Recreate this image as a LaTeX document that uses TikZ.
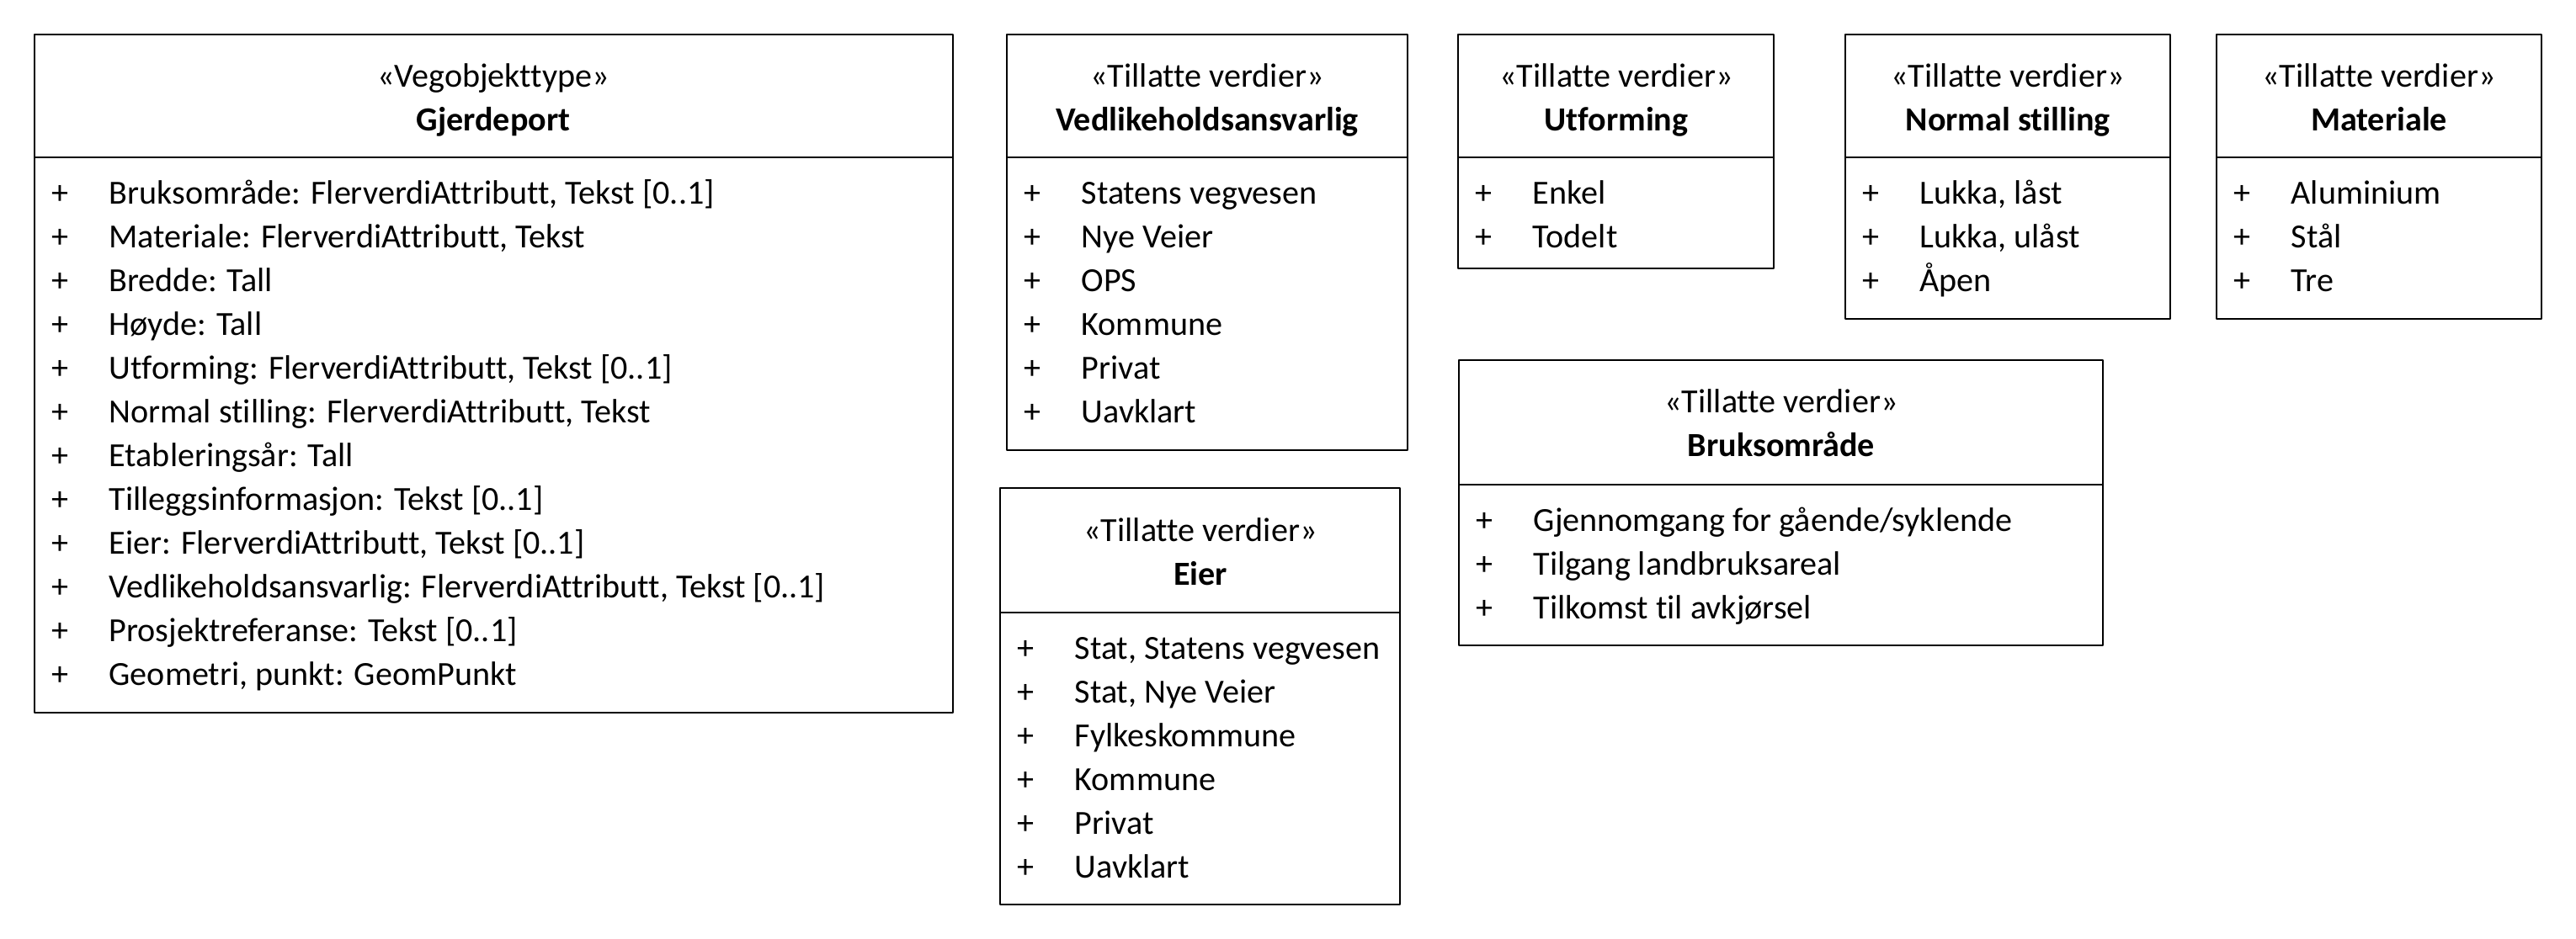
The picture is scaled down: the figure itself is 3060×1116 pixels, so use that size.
\documentclass[tikz,border=0pt]{standalone}
\usepackage{fontspec}
\setmainfont{Carlito}[Ligatures=NoCommon]

\begin{document}
\begin{tikzpicture}[line cap=round,line join=round,x=0.01cm,y=-0.01cm,
  box/.style={draw=black,line width=0.55pt},
  stereo/.style={inner sep=0pt,text height=7.4pt,text depth=2.4pt,font=\fontsize{11.4}{13}\selectfont},
  cname/.style={stereo,font=\fontsize{11.4}{13}\selectfont\bfseries},
  item/.style={anchor=west,inner sep=0pt,text height=7.4pt,text depth=2.4pt,font=\fontsize{11.4}{13}\selectfont}]
\useasboundingbox (0,0) rectangle (3060,1116);

% Gjerdeport
\draw[box] (41,41) rectangle (1132,847);
\draw[box] (41,187) -- (1132,187);
\node[stereo] (gjS) at (586,95) {«Vegobjekttype»};
\node[cname] (gjN) at (586,147) {Gjerdeport};
\foreach \t [count=\i from 0] in {{Bruksområde: FlerverdiAttributt, Tekst [0..1]},
  {Materiale: FlerverdiAttributt, Tekst}, {Bredde: Tall}, {Høyde: Tall},
  {Utforming: FlerverdiAttributt, Tekst [0..1]}, {Normal stilling: FlerverdiAttributt, Tekst},
  {Etableringsår: Tall}, {Tilleggsinformasjon: Tekst [0..1]},
  {Eier: FlerverdiAttributt, Tekst [0..1]},
  {Vedlikeholdsansvarlig: FlerverdiAttributt, Tekst [0..1]},
  {Prosjektreferanse: Tekst [0..1]}, {Geometri, punkt: GeomPunkt}}
{
  \node[item] (gjP\i) at (61,234+52*\i) {+};
  \node[item] (gjA\i) at (129,234+52*\i) {\t};
}

% Vedlikeholdsansvarlig
\draw[box] (1196,41) rectangle (1672,535);
\draw[box] (1196,187) -- (1672,187);
\node[stereo] (veS) at (1434,95) {«Tillatte verdier»};
\node[cname] (veN) at (1434,147) {Vedlikeholdsansvarlig};
\foreach \t [count=\i from 0] in {Statens vegvesen, Nye Veier, OPS, Kommune, Privat, Uavklart}
{
  \node[item] (veP\i) at (1216,234+52*\i) {+};
  \node[item] (veA\i) at (1284,234+52*\i) {\t};
}

% Utforming
\draw[box] (1732,41) rectangle (2107,319);
\draw[box] (1732,187) -- (2107,187);
\node[stereo] (utS) at (1920,95) {«Tillatte verdier»};
\node[cname] (utN) at (1920,147) {Utforming};
\foreach \t [count=\i from 0] in {Enkel, Todelt}
{
  \node[item] (utP\i) at (1752,234+52*\i) {+};
  \node[item] (utA\i) at (1820,234+52*\i) {\t};
}

% Normal stilling
\draw[box] (2192,41) rectangle (2578,379);
\draw[box] (2192,187) -- (2578,187);
\node[stereo] (nsS) at (2385,95) {«Tillatte verdier»};
\node[cname] (nsN) at (2385,147) {Normal stilling};
\foreach \t [count=\i from 0] in {{Lukka, låst}, {Lukka, ulåst}, Åpen}
{
  \node[item] (nsP\i) at (2212,234+52*\i) {+};
  \node[item] (nsA\i) at (2280,234+52*\i) {\t};
}

% Materiale
\draw[box] (2633,41) rectangle (3019,379);
\draw[box] (2633,187) -- (3019,187);
\node[stereo] (maS) at (2826,95) {«Tillatte verdier»};
\node[cname] (maN) at (2826,147) {Materiale};
\foreach \t [count=\i from 0] in {Aluminium, Stål, Tre}
{
  \node[item] (maP\i) at (2653,234+52*\i) {+};
  \node[item] (maA\i) at (2721,234+52*\i) {\t};
}

% Eier
\draw[box] (1188,580) rectangle (1663,1075);
\draw[box] (1188,728) -- (1663,728);
\node[stereo] (eiS) at (1426,635) {«Tillatte verdier»};
\node[cname] (eiN) at (1426,687) {Eier};
\foreach \t [count=\i from 0] in {{Stat, Statens vegvesen}, {Stat, Nye Veier}, Fylkeskommune, Kommune, Privat, Uavklart}
{
  \node[item] (eiP\i) at (1208,775+52*\i) {+};
  \node[item] (eiA\i) at (1276,775+52*\i) {\t};
}

% Bruksomraade
\draw[box] (1733,428) rectangle (2498,767);
\draw[box] (1733,576) -- (2498,576);
\node[stereo] (brS) at (2116,482) {«Tillatte verdier»};
\node[cname] (brN) at (2116,534) {Bruksområde};
\foreach \t [count=\i from 0] in {Gjennomgang for gående/syklende, Tilgang landbruksareal, Tilkomst til avkjørsel}
{
  \node[item] (brP\i) at (1753,623+52*\i) {+};
  \node[item] (brA\i) at (1821,623+52*\i) {\t};
}

\end{tikzpicture}
\end{document}
